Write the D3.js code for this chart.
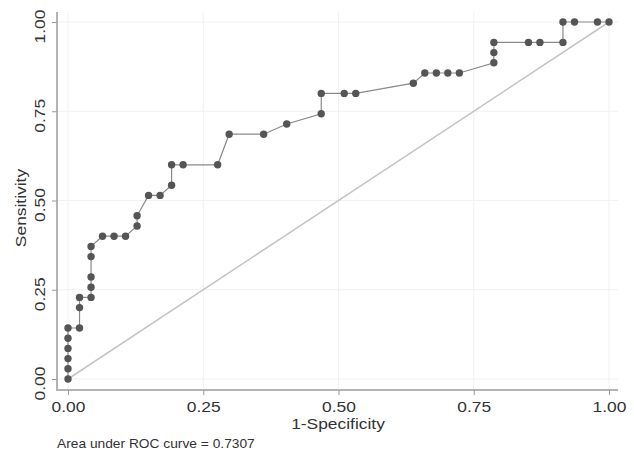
<!DOCTYPE html>
<html>
<head>
<meta charset="utf-8">
<script src="https://cdn.jsdelivr.net/npm/d3@7"></script>
<style>
    body { margin: 0; background: #fff; }
    svg text { font-family: "Liberation Sans", Arial, sans-serif; fill: #333; }
</style>
</head>
<body>
<div id="chart"></div>
<script>
// ROC points
var fpr = [0, 0, 0, 0, 0, 0, 0.0213, 0.0213, 0.0213, 0.0426, 0.0426, 0.0426, 0.0426, 0.0426,
    0.0638, 0.0851, 0.1064, 0.1277, 0.1277, 0.1489, 0.1702, 0.1915, 0.1915, 0.2128, 0.2766,
    0.2979, 0.3617, 0.4043, 0.4681, 0.4681, 0.5106, 0.5319, 0.6383, 0.6596, 0.6809, 0.7021,
    0.7234, 0.7872, 0.7872, 0.7872, 0.8511, 0.8723, 0.9149, 0.9149, 0.9362, 0.9787, 1];
var sens = [0, 0.0286, 0.0571, 0.0857, 0.1143, 0.1429, 0.1429, 0.2, 0.2286, 0.2286, 0.2571,
    0.2857, 0.3429, 0.3714, 0.4, 0.4, 0.4, 0.4286, 0.4571, 0.5143, 0.5143, 0.5429, 0.6, 0.6,
    0.6, 0.6857, 0.6857, 0.7143, 0.7429, 0.8, 0.8, 0.8, 0.8286, 0.8571, 0.8571, 0.8571,
    0.8571, 0.8857, 0.9143, 0.9429, 0.9429, 0.9429, 0.9429, 1, 1, 1, 1];
var ticks = [0, 0.25, 0.5, 0.75, 1];
var tickLabels = ["0.00", "0.25", "0.50", "0.75", "1.00"];
var aucText = "Area under ROC curve = 0.7307";

var W = 634, H = 454;
var fs = 14.5, stretch = 1.2; // the source font is wider than Liberation Sans
var x = d3.scaleLinear().domain([0, 1]).range([68, 609]);
var y = d3.scaleLinear().domain([0, 1]).range([379, 22]);

var svg = d3.select("#chart").append("svg")
    .attr("width", W)
    .attr("height", H);

// faint grid
svg.append("g").selectAll("line")
    .data(ticks).enter().append("line")
    .attr("x1", function (d) { return x(d); })
    .attr("x2", function (d) { return x(d); })
    .attr("y1", 12).attr("y2", 389)
    .attr("stroke", "#f1f1f1").attr("stroke-width", 1);
svg.append("g").selectAll("line")
    .data(ticks).enter().append("line")
    .attr("x1", 58).attr("x2", 618)
    .attr("y1", function (d) { return y(d); })
    .attr("y2", function (d) { return y(d); })
    .attr("stroke", "#f1f1f1").attr("stroke-width", 1);

// reference diagonal
svg.append("line")
    .attr("x1", x(0)).attr("y1", y(0))
    .attr("x2", x(1)).attr("y2", y(1))
    .attr("stroke", "#c4c4c4").attr("stroke-width", 1.5);

// axes
var xAxis = d3.axisBottom(x).tickValues(ticks)
    .tickFormat(function (d, i) { return tickLabels[i]; })
    .tickSize(5).tickPadding(7);
var gx = svg.append("g").attr("transform", "translate(0,390)").call(xAxis);
gx.select(".domain").attr("d", "M57,0H618").attr("stroke", "#b4b4b4").attr("stroke-width", 2);
gx.selectAll(".tick line").attr("stroke", "#999");
gx.selectAll(".tick text")
    .style("font-size", fs + "px")
    .attr("fill", "#333")
    .attr("transform", "scale(" + stretch + ",1)");

var yAxis = d3.axisLeft(y).tickValues(ticks)
    .tickFormat(function (d, i) { return tickLabels[i]; })
    .tickSize(5).tickPadding(6);
var gy = svg.append("g").attr("transform", "translate(57,0)").call(yAxis);
gy.select(".domain").attr("d", "M0,12V391").attr("stroke", "#b4b4b4").attr("stroke-width", 2);
gy.selectAll(".tick line").attr("stroke", "#999");
gy.selectAll(".tick text")
    .style("font-size", fs + "px")
    .attr("fill", "#333")
    .attr("x", null).attr("dy", null)
    .attr("text-anchor", "middle")
    .attr("transform", "translate(-12,4) rotate(-90) scale(" + stretch + ",1)");

// ROC curve
var pts = fpr.map(function (d, i) { return [d, sens[i]]; });
svg.append("path")
    .datum(pts)
    .attr("fill", "none")
    .attr("stroke", "#8a8a8a")
    .attr("stroke-width", 1.2)
    .attr("d", d3.line().x(function (d) { return x(d[0]); }).y(function (d) { return y(d[1]); }));

svg.append("g").selectAll("circle")
    .data(pts).enter().append("circle")
    .attr("cx", function (d) { return x(d[0]); })
    .attr("cy", function (d) { return y(d[1]); })
    .attr("r", 3.7)
    .attr("fill", "#555");

// titles
svg.append("text")
    .attr("transform", "translate(338,429) scale(" + stretch + ",1)")
    .attr("text-anchor", "middle")
    .style("font-size", fs + "px")
    .text("1-Specificity");

svg.append("text")
    .attr("transform", "translate(26,208) rotate(-90) scale(" + stretch + ",1)")
    .attr("text-anchor", "middle")
    .style("font-size", fs + "px")
    .text("Sensitivity");

svg.append("text")
    .attr("transform", "translate(57,448) scale(1.12,1)")
    .style("font-size", "12.3px")
    .text(aucText);
</script>
</body>
</html>
